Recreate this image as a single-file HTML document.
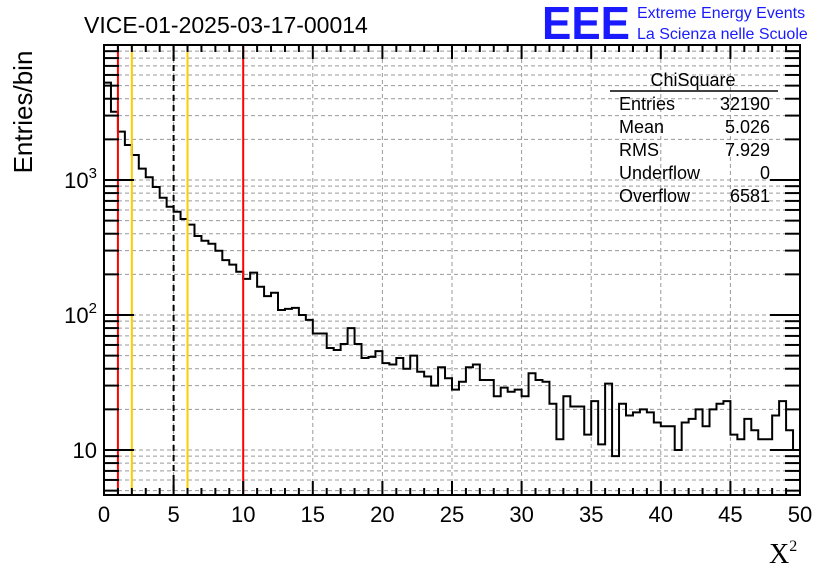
<!DOCTYPE html>
<html><head><meta charset="utf-8"><style>
body{margin:0;background:#fff;}
svg text{font-family:"Liberation Sans",sans-serif;}
</style></head><body>
<svg id="c" width="836" height="572" xmlns="http://www.w3.org/2000/svg">
<rect width="836" height="572" fill="#fff"/>
<g id="grid"></g>
<g id="marks"></g>
<g id="axes"></g>
<text x="84" y="33" font-size="23">VICE-01-2025-03-17-00014</text>
<text x="542" y="39" font-size="46" font-weight="bold" fill="#1a1aff" textLength="88" lengthAdjust="spacingAndGlyphs">EEE</text>
<text x="637" y="18" font-size="16" fill="#1a1aff">Extreme Energy Events</text>
<text x="637" y="39" font-size="16" fill="#1a1aff">La Scienza nelle Scuole</text>
<text transform="translate(32,112) rotate(-90)" text-anchor="middle" font-size="26">Entries/bin</text>
<text x="769" y="563" font-size="28" font-family="Liberation Serif,serif" style="font-family:'Liberation Serif',serif">X<tspan font-size="16" dy="-12">2</tspan></text>
<g font-size="18">
<text x="693" y="86" text-anchor="middle">ChiSquare</text>
<line x1="610" y1="91" x2="778" y2="91" stroke="#000" stroke-width="1.5"/>
<text x="619" y="110">Entries</text><text x="770" y="110" text-anchor="end">32190</text>
<text x="619" y="133">Mean</text><text x="770" y="133" text-anchor="end">5.026</text>
<text x="619" y="156">RMS</text><text x="770" y="156" text-anchor="end">7.929</text>
<text x="619" y="179">Underflow</text><text x="770" y="179" text-anchor="end">0</text>
<text x="619" y="202">Overflow</text><text x="770" y="202" text-anchor="end">6581</text>
</g>
</svg>
<script>
const binCounts=[5260,3206,2280,1816,1531,1213,1047,887,739,634,582,514,467,385,355,337,299,255,236,209,185,206,162,138,146,109,111,113,100,92,73,73,57,55,61,80,61,48,49,54,44,43,48,40,50,38,35,30,41,34,28,32,41,43,33,33,25,29,27,28,25,37,33,32,22,12,25,21,21,13,23,11,31,9,22,18,19,20,19,16,15,15,10,16,17,20,15,20,22,23,13,12,17,14,12,12,18,23,14,10];
const xTicks=[0,5,10,15,20,25,30,35,40,45,50];
const yTickLabels=[[10,"10"],[100,"10²"],[1000,"10³"]];
const redLines=[1,10];
const goldLines=[2,6];
const dashedLines=[5];
const binWidth=0.5;
const L=104,R=800,T=45,B=495;
const xMin=0,xMax=50,yMin=10**(3-315/135),yMax=10**(3+135/135);
function X(v){return L+(v-xMin)/(xMax-xMin)*(R-L);}
function Y(v){return B-(Math.log10(v)-Math.log10(yMin))/(Math.log10(yMax)-Math.log10(yMin))*(B-T);}
const NS="http://www.w3.org/2000/svg";
function mk(tag,attrs,parent){const e=document.createElementNS(NS,tag);for(const k in attrs)e.setAttribute(k,attrs[k]);parent.appendChild(e);return e;}
const grid=document.getElementById('grid'),marks=document.getElementById('marks'),axes=document.getElementById('axes');
// y minor values
const yVals=[];
for(let d=1;d<=1000;d*=10)for(let m=1;m<=9;m++){const v=m*d;if(v>=yMin&&v<=yMax)yVals.push(v);}
yVals.forEach(v=>{
 const g=mk('line',{x1:L,x2:R,y1:Y(v),y2:Y(v),stroke:'#999','stroke-dasharray':'4,3','stroke-width':1},grid);
 
 
 const big=[10,100,1000].includes(v);
 const len=big?30:15;
 const t1=mk('line',{x1:L,x2:L+len,y1:Y(v),y2:Y(v),stroke:'#000','stroke-width':2},axes);
 
 
 const t2=mk('line',{x1:R,x2:R-len,y1:Y(v),y2:Y(v),stroke:'#000','stroke-width':2},axes);
 
 
});
xTicks.forEach(v=>{
 if(v>0&&v<50){const g=mk('line',{x1:X(v),x2:X(v),y1:T,y2:B,stroke:'#999','stroke-dasharray':'4,3','stroke-width':1},grid);
 
 }
 const t=mk('text',{x:X(v),y:522,'font-size':22,'text-anchor':'middle'},axes);t.textContent=v;
 
 
});
for(let v=0;v<=50;v++){
 const len=v%5===0?14:7;
 const t=mk('line',{x1:X(v),x2:X(v),y1:B,y2:B-len,stroke:'#000','stroke-width':2},axes);
 
 
 const t2=mk('line',{x1:X(v),x2:X(v),y1:T,y2:T+len,stroke:'#000','stroke-width':2},axes);
 
 
}
yTickLabels.forEach(([v,s])=>{
 const t=mk('text',{x:97,y:Y(v)+8,'font-size':22,'text-anchor':'end'},axes);
 if(s==="10")t.textContent="10";else{t.textContent="10";const sp=mk('tspan',{'font-size':15,dy:-10},t);sp.textContent=s.slice(-1)==="²"?"2":"3";}
 
 
});
// histogram
let d=`M${X(0)},${B}`;
binCounts.forEach((c,i)=>{const y=Y(Math.max(c,yMin));d+=` L${X(i*binWidth)},${y} L${X((i+1)*binWidth)},${y}`;});
d+=` L${X(binCounts.length*binWidth)},${Y(binCounts[binCounts.length-1])}`;
const h=mk('path',{d:d,fill:'none',stroke:'#000','stroke-width':2},marks);


redLines.forEach(v=>{const l=mk('line',{x1:X(v),x2:X(v),y1:T,y2:B,stroke:'#ff0000','stroke-width':2},marks);
 
 });
goldLines.forEach(v=>{const l=mk('line',{x1:X(v),x2:X(v),y1:T,y2:B,stroke:'#ffcc00','stroke-width':2},marks);
 
 });
dashedLines.forEach(v=>{const l=mk('line',{x1:X(v),x2:X(v),y1:T,y2:B,stroke:'#000','stroke-width':2,'stroke-dasharray':'6,4'},marks);
 
 });
const fr=mk('rect',{x:L,y:T,width:R-L,height:B-T,fill:'none',stroke:'#000','stroke-width':2},axes);


</script>
</body></html>
